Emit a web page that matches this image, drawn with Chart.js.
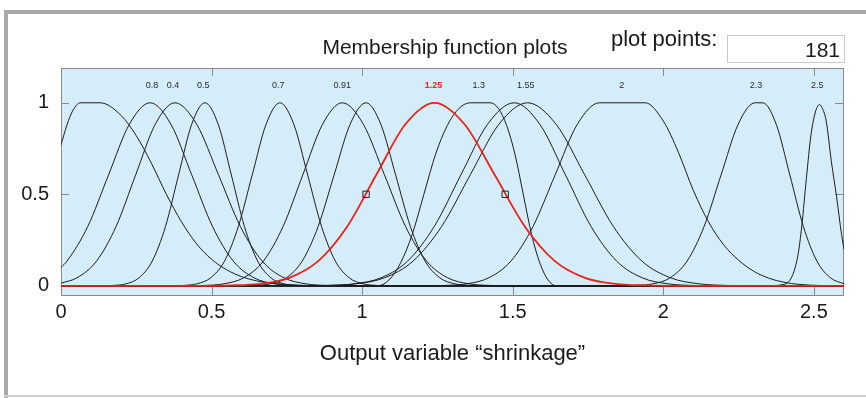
<!DOCTYPE html>
<html>
<head>
<meta charset="utf-8">
<script src="https://cdn.jsdelivr.net/npm/chart.js@4.4.1/dist/chart.umd.min.js"></script>
<style>
  html,body{margin:0;padding:0;background:#fff;}
  #wrap{position:relative;width:866px;height:398px;overflow:hidden;background:#fff;}
  .bar{position:absolute;background:#a9a9a9;}
  #title{position:absolute;left:250px;width:390px;top:36px;text-align:center;font:21px "Liberation Sans",Arial,sans-serif;line-height:21px;color:#1a1a1a;}
  #pp{position:absolute;left:611px;top:28px;font:22px "Liberation Sans",Arial,sans-serif;line-height:22px;color:#1a1a1a;}
  #box{position:absolute;left:727px;top:35px;width:116px;height:26px;border:1px solid #c9c9c9;background:#fff;}
  #num{position:absolute;right:4px;top:3px;font:21px "Liberation Sans Narrow","Arial Narrow","Liberation Sans",Arial,sans-serif;line-height:21px;color:#1a1a1a;}
  canvas{position:absolute;left:0;top:0;}
</style>
</head>
<body>
<div id="wrap">
  <div class="bar" style="left:4px;top:10px;width:862px;height:4px;"></div>
  <div class="bar" style="left:4px;top:10px;width:4px;height:388px;"></div>
  <div class="bar" style="left:4px;top:395px;width:862px;height:2px;background:#cfcfcf;"></div>
  <canvas id="c" width="866" height="398"></canvas>
  <div id="title">Membership function plots</div>
  <div id="pp">plot points:</div>
  <div id="box"><span id="num">181</span></div>
</div>
<script>
// ---- data ----
const X_TICKS = [0, 0.5, 1, 1.5, 2, 2.5];
const Y_TICKS = [0, 0.5, 1];
const MF_LABELS  = ['0.8','0.4','0.5','0.7','0.91','1.25','1.3','1.55','2','2.3','2.5'];
const MF_LABEL_X = [0.302,0.372,0.472,0.721,0.934,1.237,1.387,1.543,1.862,2.308,2.511];
const SELECTED_LABEL = '1.25';

const MF1 = [[0,0.77],[0.02,0.88],[0.04,0.96],[0.065,1],[0.13,1],[0.2,0.93],[0.25,0.82],[0.3,0.67],[0.35,0.5],[0.4,0.35],[0.45,0.23],[0.5,0.145],[0.55,0.088],[0.6,0.05],[0.65,0.027],[0.7,0.014],[0.8,0.003],[0.9,0],[2.6,0]];
const MF2 = [[0,0.10],[0.02,0.1353],[0.089,0.3247],[0.158,0.6065],[0.227,0.8825],[0.296,1],[0.365,0.8825],[0.434,0.6065],[0.503,0.3247],[0.572,0.1353],[0.641,0.0439],[0.71,0.0111],[0.779,0.0022],[0.9,0],[2.6,0]];
const MF3 = [[0,0.0146],[0.053,0.0439],[0.118,0.1353],[0.183,0.3247],[0.248,0.6065],[0.313,0.8825],[0.378,1],[0.4505,0.8825],[0.523,0.6065],[0.5955,0.3247],[0.668,0.1353],[0.7405,0.0439],[0.813,0.0111],[0.8855,0.0022],[1.0,0],[2.6,0]];
const MF4 = [[0,0],[0.13,0],[0.172,0.0022],[0.216,0.0111],[0.259,0.0439],[0.303,0.1353],[0.347,0.3247],[0.3905,0.6065],[0.434,0.8825],[0.478,1],[0.522,0.8825],[0.5655,0.6065],[0.609,0.3247],[0.653,0.1353],[0.697,0.0439],[0.74,0.0111],[0.784,0.0022],[0.83,0],[2.6,0]];
const MF5 = [[0,0],[0.36,0],[0.405,0.0022],[0.451,0.0111],[0.497,0.0439],[0.543,0.1353],[0.589,0.3247],[0.635,0.6065],[0.681,0.8825],[0.727,1],[0.773,0.8825],[0.819,0.6065],[0.865,0.3247],[0.911,0.1353],[0.957,0.0439],[1.003,0.0111],[1.049,0.0022],[1.1,0],[2.6,0]];
const MF6 = [[0,0],[0.41,0],[0.4755,0.0022],[0.541,0.0111],[0.6065,0.0439],[0.672,0.1353],[0.7375,0.3247],[0.803,0.6065],[0.8685,0.8825],[0.934,1],[1.004,0.8825],[1.074,0.6065],[1.144,0.3247],[1.214,0.1353],[1.284,0.0439],[1.354,0.0111],[1.424,0.0022],[1.5,0],[2.6,0]];
const MF7 = [[0,0],[0.58,0],[0.642,0.0022],[0.695,0.0111],[0.748,0.0439],[0.801,0.1353],[0.854,0.3247],[0.907,0.6065],[0.96,0.8825],[1.013,1],[1.062,0.8825],[1.111,0.6065],[1.16,0.3247],[1.209,0.1353],[1.258,0.0439],[1.307,0.0111],[1.356,0.0022],[1.41,0],[2.6,0]];
const MF8 = [[0,0],[0.47,0],[0.5645,0.0022],[0.661,0.0111],[0.7575,0.0439],[0.854,0.1353],[0.9505,0.3247],[1.047,0.6065],[1.1435,0.8825],[1.24,1],[1.34,0.8825],[1.44,0.6065],[1.54,0.3247],[1.64,0.1353],[1.74,0.0439],[1.84,0.0111],[1.94,0.0022],[2.04,0],[2.6,0]];
const MF9 = [[0,0],[1.05,0],[1.0888,0.0313],[1.1275,0.125],[1.1663,0.2813],[1.205,0.5],[1.2438,0.7188],[1.2825,0.875],[1.3213,0.9688],[1.36,1],[1.425,1],[1.4525,0.9688],[1.48,0.875],[1.5075,0.7188],[1.535,0.5],[1.5625,0.2813],[1.59,0.125],[1.6175,0.0313],[1.645,0],[2.6,0]];
const MF10 = [[0,0],[0.8,0],[0.8855,0.0022],[0.974,0.0111],[1.0625,0.0439],[1.151,0.1353],[1.2395,0.3247],[1.328,0.6065],[1.4165,0.8825],[1.505,1],[1.59,0.8825],[1.675,0.6065],[1.76,0.3247],[1.845,0.1353],[1.93,0.0439],[2.015,0.0111],[2.1,0.0022],[2.19,0],[2.6,0]];
const MF11 = [[0,0],[0.79,0],[0.884,0.0022],[0.979,0.0111],[1.074,0.0439],[1.169,0.1353],[1.264,0.3247],[1.359,0.6065],[1.454,0.8825],[1.549,1],[1.644,0.8825],[1.739,0.6065],[1.834,0.3247],[1.929,0.1353],[2.024,0.0439],[2.119,0.0111],[2.214,0.0022],[2.31,0],[2.6,0]];
const MF12 = [[0,0],[1.2,0],[1.2735,0.0022],[1.347,0.0111],[1.4205,0.0439],[1.494,0.1353],[1.5675,0.3247],[1.641,0.6065],[1.7145,0.8825],[1.788,1],[1.94,1],[2.0,0.9],[2.05,0.73],[2.1,0.52],[2.15,0.35],[2.2,0.225],[2.25,0.14],[2.3,0.08],[2.35,0.042],[2.4,0.02],[2.45,0.008],[2.52,0.002],[2.6,0]];
const MF13 = [[0,0],[1.85,0],[1.9095,0.0022],[1.966,0.0111],[2.0225,0.0439],[2.079,0.1353],[2.1355,0.3247],[2.192,0.6065],[2.2485,0.8825],[2.305,1],[2.33,1],[2.375,0.8825],[2.42,0.6065],[2.465,0.3247],[2.51,0.1353],[2.555,0.0439],[2.6,0.0111]];
const MF14 = [[0,0],[2.36,0],[2.39,0.005],[2.42,0.03],[2.447,0.167],[2.46,0.33],[2.475,0.586],[2.49,0.82],[2.505,0.95],[2.519,0.99],[2.528,0.97],[2.541,0.9],[2.558,0.68],[2.575,0.49],[2.592,0.28],[2.6,0.2]];
const SELECTED_MF = MF8;
const MARKERS = [[1.013,0.5],[1.475,0.5]];

const BLACK_MFS = [MF1,MF2,MF3,MF4,MF5,MF6,MF7,MF9,MF10,MF11,MF12,MF13,MF14];

// ---- styling ----
const PLOT_BG = '#d5edf9';
const AXIS_GRAY = '#8a8a8a';
const NARROW = '"Liberation Sans Narrow","Arial Narrow","Liberation Sans",Arial,sans-serif';
const SANS = '"Liberation Sans",Arial,sans-serif';
const toPts = a => a.map(p => ({x:p[0], y:p[1]}));

const datasets = [];
datasets.push({ data: toPts(MARKERS), showLine:false, pointStyle:'rect', pointRadius:4.5,
  pointBorderColor:'#222', pointBackgroundColor:'rgba(0,0,0,0)', pointBorderWidth:1, order:-2 });
datasets.push({ data: toPts(SELECTED_MF), showLine:true, borderColor:'#e8221c', borderWidth:1.8,
  pointRadius:0, cubicInterpolationMode:'monotone', order:-1 });
BLACK_MFS.forEach(mf => datasets.push({ data: toPts(mf), showLine:true, borderColor:'#1c1c1c',
  borderWidth:1, pointRadius:0, cubicInterpolationMode:'monotone', order:0 }));

const bgPlugin = {
  id:'plotbg',
  beforeDraw(chart){
    const {ctx, chartArea:a} = chart;
    ctx.save();
    ctx.fillStyle = PLOT_BG;
    ctx.fillRect(a.left, a.top, a.right-a.left, a.bottom-a.top);
    ctx.restore();
  },
  beforeDatasetsDraw(chart){
    const {ctx, chartArea:a, scales} = chart;
    ctx.save();
    ctx.strokeStyle = AXIS_GRAY; ctx.lineWidth = 1;
    ctx.beginPath();
    X_TICKS.forEach(v => {
      const px = Math.round(scales.x.getPixelForValue(v)) + 0.5;
      ctx.moveTo(px, a.top); ctx.lineTo(px, a.top + 8);
      ctx.moveTo(px, a.bottom); ctx.lineTo(px, a.bottom - 9);
    });
    Y_TICKS.forEach(v => {
      const py = Math.round(scales.y.getPixelForValue(v)) + 0.5;
      ctx.moveTo(a.left, py); ctx.lineTo(a.left + 8, py);
      ctx.moveTo(a.right, py); ctx.lineTo(a.right - 9, py);
    });
    ctx.stroke();
    ctx.strokeRect(Math.round(a.left)+0.5, Math.round(a.top)+0.5, Math.round(a.right-a.left)-1, Math.round(a.bottom-a.top));
    // MF names above peaks
    ctx.textAlign = 'center'; ctx.textBaseline = 'middle';
    const ly = scales.y.getPixelForValue(1.096);
    MF_LABELS.forEach((t,i) => {
      const sel = t === SELECTED_LABEL;
      ctx.fillStyle = sel ? '#e8221c' : '#2a2a2a';
      ctx.font = (sel ? 'bold ' : '') + '9px ' + SANS;
      ctx.fillText(t, scales.x.getPixelForValue(MF_LABEL_X[i]), ly);
    });
    ctx.restore();
  }
};

new Chart(document.getElementById('c'), {
  type:'scatter',
  data:{ datasets },
  options:{
    responsive:false, animation:false, events:[],
    layout:{ padding:{ top:68, right:22, left:0, bottom:0 } },
    plugins:{ legend:{display:false}, tooltip:{enabled:false}, title:{display:false} },
    scales:{
      x:{ type:'linear', min:0, max:2.6,
        afterBuildTicks: s => { s.ticks = X_TICKS.map(v => ({value:v})); },
        afterFit: s => { s.height = 103; },
        grid:{ display:false, drawTicks:false }, border:{ display:false },
        ticks:{ padding:5, maxRotation:0, autoSkip:false, color:'#1a1a1a',
          font:{ family:NARROW, size:20 }, callback: v => String(v) },
        title:{ display:true, text:'Output variable \u201cshrinkage\u201d', color:'#1a1a1a',
          font:{ family:SANS, size:22 }, padding:{ top:0, bottom:31 } }
      },
      y:{ type:'linear', min:-0.05, max:1.19,
        afterBuildTicks: s => { s.ticks = Y_TICKS.map(v => ({value:v})); },
        afterFit: s => { s.width = 61; },
        grid:{ display:false, drawTicks:false }, border:{ display:false },
        ticks:{ padding:12, color:'#1a1a1a', font:{ family:NARROW, size:20 }, callback: v => String(v) }
      }
    }
  },
  plugins:[bgPlugin]
});
</script>
</body>
</html>
